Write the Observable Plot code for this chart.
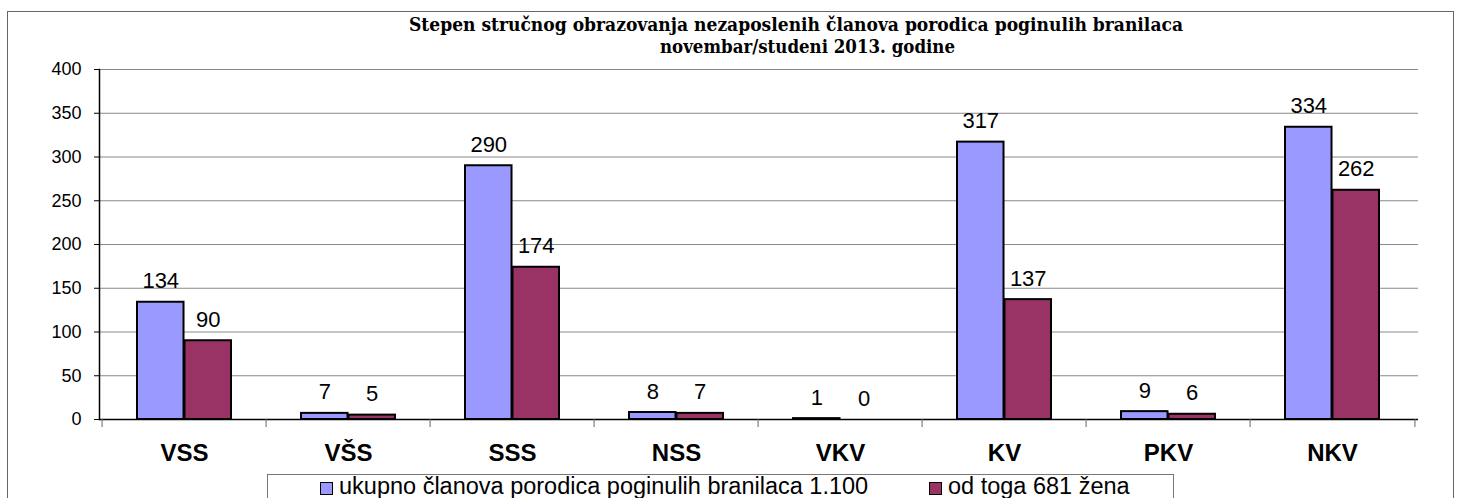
<!DOCTYPE html>
<html>
<head>
<meta charset="utf-8">
<script src="https://cdn.jsdelivr.net/npm/d3@7"></script>
<script src="https://cdn.jsdelivr.net/npm/@observablehq/plot@0.6"></script>
<style>
  html, body { margin: 0; padding: 0; background: #fff; }
  #wrap { position: relative; width: 1457px; height: 498px; overflow: hidden; background: #fff; font-family: "Liberation Sans", Arial, sans-serif; }
  #frame { position: absolute; left: 7px; top: 11px; width: 1447px; height: 600px; border: 1.5px solid #666; box-sizing: border-box; pointer-events: none; z-index: 5; }
  #title { display: block; }
  #legend { position: relative; height: 28px; }
  #legend .box { position: absolute; left: 267px; top: 4px; width: 907px; height: 40px; border: 1px solid #777; box-sizing: border-box; }
  #legend .item { position: absolute; top: 0px; font-size: 23.5px; line-height: 23px; color: #000; white-space: nowrap; display: flex; align-items: center; }
  #legend .sw { display: inline-block; width: 11px; height: 11px; border: 1.5px solid #000; margin-right: 6px; margin-top: 3px; }
</style>
</head>
<body>
<div id="wrap">
  <svg id="title" width="1457" height="60"></svg>
  <div id="chart"></div>
  <div id="legend"><div class="box"></div></div>
  <div id="frame"></div>
</div>
<script>
const titleLines = [
  "Stepen stručnog obrazovanja nezaposlenih članova porodica poginulih branilaca",
  "novembar/studeni  2013. godine"
];
const categories = ["VSS", "VŠS", "SSS", "NSS", "VKV", "KV", "PKV", "NKV"];
const totals = [134, 7, 290, 8, 1, 317, 9, 334];
const women = [90, 5, 174, 7, 0, 137, 6, 262];
const yTicks = [0, 50, 100, 150, 200, 250, 300, 350, 400];
const seriesNames = ["ukupno članova porodica poginulih branilaca 1.100", "od toga 681 žena"];
const seriesColors = ["#9999FF", "#993366"];

const rows = categories.map((c, i) => ({cat: c, total: totals[i], women: women[i]}));

// Title
const tsvg = d3.select("#title");
const tspec = [
  {x: 409, y: 30.5, len: 774},
  {x: 660, y: 52.5, len: 295}
];
titleLines.forEach((t, i) => {
  tsvg.append("text")
    .attr("x", tspec[i].x).attr("y", tspec[i].y)
    .attr("textLength", tspec[i].len)
    .attr("lengthAdjust", "spacingAndGlyphs")
    .style("font-family", "'DejaVu Serif', serif")
    .style("font-weight", "bold")
    .style("font-size", "18px")
    .attr("fill", "#000")
    .text(t);
});

// Chart
const W = 1457, H = 410, ML = 99, MR = 39, MT = 9, MB = 51;
const padInner = 0.424;
const step = (W - ML - MR) / categories.length;
const bw = step * (1 - padInner);
const half = bw / 2;

const chart = Plot.plot({
  width: W,
  height: H,
  marginLeft: ML,
  marginRight: MR,
  marginTop: MT,
  marginBottom: MB,
  style: {background: "transparent", fontFamily: "'Liberation Sans', Arial, sans-serif", color: "#000", overflow: "visible"},
  x: {domain: categories, paddingInner: padInner, paddingOuter: padInner / 2, label: null},
  y: {domain: [0, 400], label: null},
  marks: [
    Plot.gridY(yTicks, {stroke: "#888", strokeOpacity: 1, strokeWidth: 1}),
    Plot.barY(rows, {x: "cat", y: "total", fill: seriesColors[0], stroke: "#000", strokeWidth: 2, insetRight: half}),
    Plot.barY(rows, {x: "cat", y: "women", fill: seriesColors[1], stroke: "#000", strokeWidth: 2, insetLeft: half}),
    Plot.ruleY([0], {stroke: "#000", strokeWidth: 1.5}),
    Plot.frame({anchor: "left", stroke: "#000", strokeWidth: 1.5}),
    Plot.axisY(yTicks, {tickSize: 5, tickPadding: 13, fontSize: 18, stroke: "#000", label: null}),
    Plot.axisX(categories, {tickSize: 8, tickFormat: () => "", dx: -step / 2, stroke: "#666", label: null}),
    Plot.axisX([categories[categories.length - 1]], {tickSize: 8, tickFormat: () => "", dx: step / 2, stroke: "#666", label: null}),
    Plot.axisX(categories, {tickSize: 0, tickPadding: 24, fontSize: 24, fontWeight: "bold", label: null}),
    Plot.text(rows, {x: "cat", y: "total", text: d => String(d.total), dx: -bw / 4, dy: -14, lineAnchor: "bottom", fontSize: 22, fill: "#000"}),
    Plot.text(rows, {x: "cat", y: "women", text: d => String(d.women), dx: bw / 4, dy: -14, lineAnchor: "bottom", fontSize: 22, fill: "#000"})
  ]
});
document.getElementById("chart").appendChild(chart);

// Legend
const box = d3.select("#legend .box");
const itemLeft = [52, 661];
seriesNames.forEach((name, i) => {
  const it = box.append("div").attr("class", "item").style("left", itemLeft[i] + "px");
  it.append("span").attr("class", "sw").style("background", seriesColors[i]);
  it.append("span").text(name);
});
</script>
</body>
</html>
